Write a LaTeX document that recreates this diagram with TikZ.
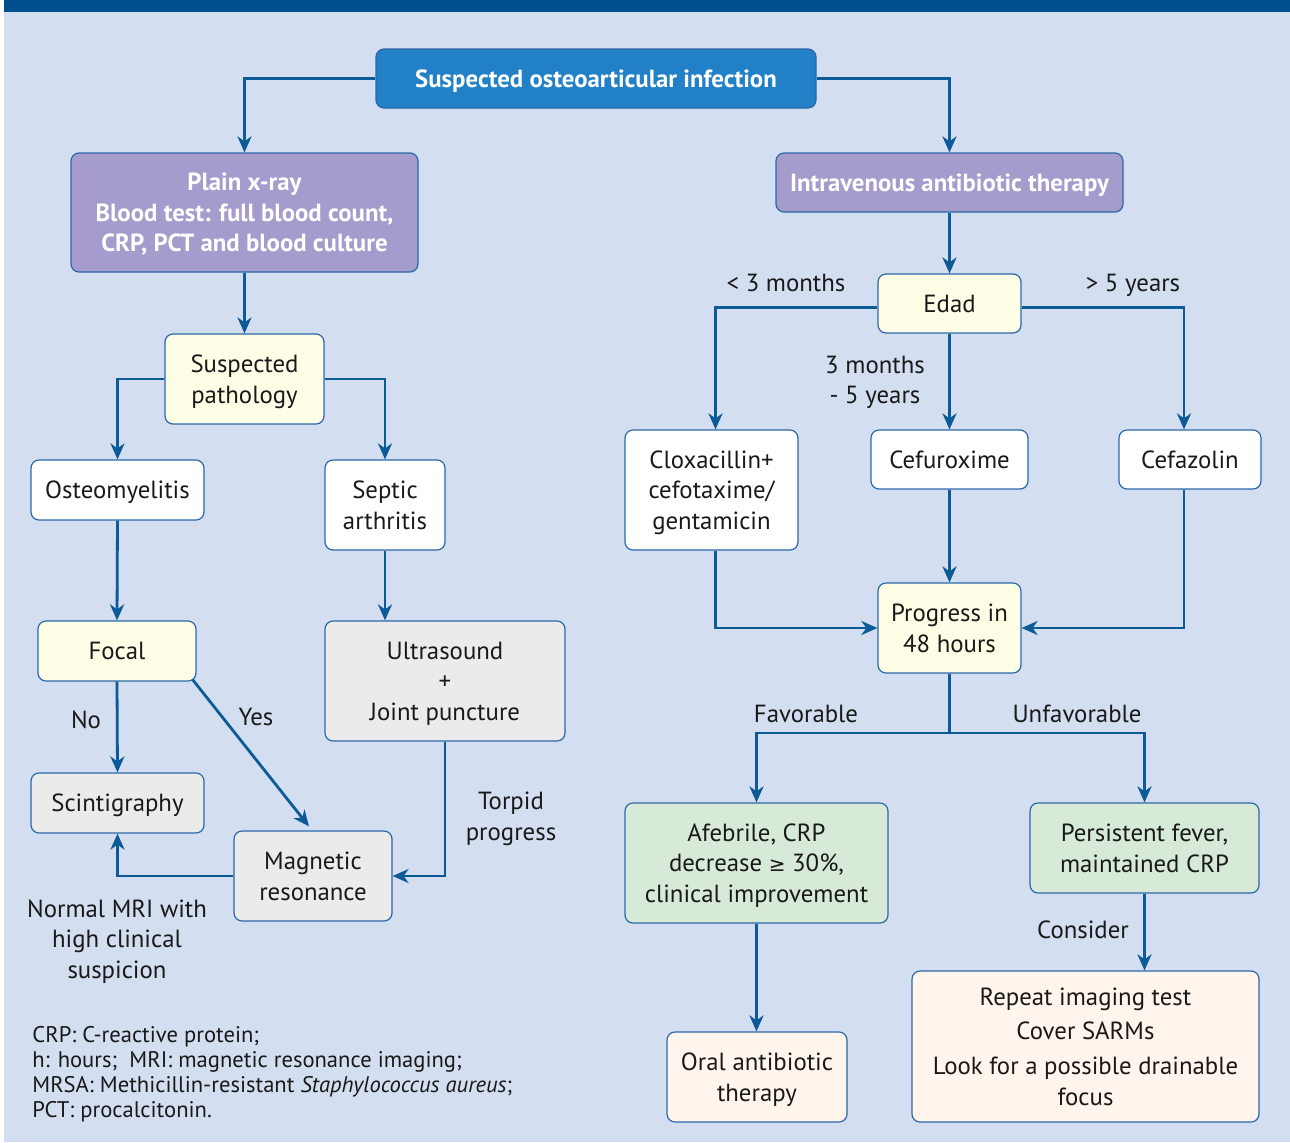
\documentclass[tikz,border=0pt]{standalone}
\usepackage{fontspec}
\setmainfont{PT Sans}
\newfontfamily\djv{DejaVu Sans}
\usetikzlibrary{arrows.meta}
\definecolor{bg}{HTML}{D3DEF1}
\definecolor{topbar}{HTML}{00508F}
\definecolor{hdr}{HTML}{2180C6}
\definecolor{purp}{HTML}{A59BCC}
\definecolor{yel}{HTML}{FEFDE6}
\definecolor{gry}{HTML}{EBEBEB}
\definecolor{grn}{HTML}{D6EAD7}
\definecolor{pch}{HTML}{FFF5EC}
\definecolor{bord}{HTML}{2A68A8}
\definecolor{arr}{HTML}{0C5A96}
\newcommand\fs{\fontsize{12.4}{15.3}\selectfont}
\newcommand\fsb{\fontsize{12.4}{15.3}\selectfont\bfseries}
\newcommand\fsl{\fontsize{11.3}{12.5}\selectfont}
\begin{document}
\begin{tikzpicture}[x=0.5pt,y=-0.5pt,
 box/.style={draw=bord, line width=0.6pt, rounded corners=4pt, align=center, font=\fs, inner sep=0pt, text=black!90, text depth=0pt},
 hbox/.style={box, font=\fsb, text=white},
 sz/.style 2 args={minimum width=#1*0.5pt, minimum height=#2*0.5pt},
 conn/.style={draw=arr, line width=1.4pt, -{Stealth[length=8pt,width=7pt,inset=2.5pt]}},
 lbl/.style={font=\fs, align=center, text=black!90, text depth=0pt}]
\useasboundingbox (0,0) rectangle (1290,1142);
\fill[white] (0,0) rectangle (1290,1142);
\fill[bg] (4,12) rectangle (1290,1142);
\fill[topbar] (4,0) rectangle (1290,12);

% nodes
\node[hbox, fill=hdr, sz={440}{59}] (top) at (596,78.5) {Suspected osteoarticular infection};
\node[hbox, fill=purp, sz={347}{119}] (plain) at (244.5,212.5) {Plain x-ray\\Blood test: full blood count,\\CRP, PCT and blood culture};
\node[hbox, fill=purp, sz={347}{59}] (iv) at (949.5,182.5) {Intravenous antibiotic therapy};
\node[box, fill=yel, sz={159}{90}] (susp) at (244.5,379) {Suspected\\pathology};
\node[box, fill=white, sz={173}{60}] (osteo) at (117.5,490) {Osteomyelitis};
\node[box, fill=white, sz={120}{90}] (septic) at (385,505) {Septic\\arthritis};
\node[box, fill=yel, sz={158}{60}] (focal) at (117,651) {Focal};
\node[box, fill=gry, sz={240}{120}] (us) at (445,681) {Ultrasound\\+\\Joint puncture};
\node[box, fill=gry, sz={173}{60}] (scint) at (117.5,803) {Scintigraphy};
\node[box, fill=gry, sz={158}{90}] (mr) at (313,876) {Magnetic\\resonance};
\node[box, fill=yel, sz={143}{59}] (edad) at (949.5,303.5) {Edad};
\node[box, fill=white, sz={173}{120}] (clox) at (711.5,490) {Cloxacillin+\\cefotaxime/\\gentamicin};
\node[box, fill=white, sz={157}{59}] (cefu) at (949.5,459.5) {Cefuroxime};
\node[box, fill=white, sz={142}{59}] (cefa) at (1190,459.5) {Cefazolin};
\node[box, fill=yel, sz={143}{90}] (prog) at (949.5,628) {Progress in\\48 hours};
\node[box, fill=grn, sz={263}{120}] (afeb) at (756.5,863) {Afebrile, CRP\\decrease {\djv\fontsize{10}{15}\selectfont ≥} 30\%,\\clinical improvement};
\node[box, fill=grn, sz={229}{90}] (pers) at (1144.5,848) {Persistent fever,\\maintained CRP};
\node[box, fill=pch, sz={180}{90}] (oral) at (757,1077) {Oral antibiotic\\therapy};
\node[box, fill=pch, sz={347}{151}, align=center] (rep) at (1085.5,1046.5) {Repeat imaging test\\[2pt]Cover SARMs\\[2pt]Look for a possible drainable\\focus};

% labels
\node[lbl] (lno) at (86,720) {No};
\node[lbl] (lyes) at (256,717) {Yes};
\node[lbl] (ltorp) at (511,816) {Torpid\\progress};
\node[lbl] (lnorm) at (117,939) {Normal MRI with\\high clinical\\suspicion};
\node[lbl] (l3m) at (786,283) {< 3 months};
\node[lbl] (l5y) at (1133,283) {> 5 years};
\node[lbl] (lmid) at (875,380) {3 months\\- 5 years};
\node[lbl] (lfav) at (806,714) {Favorable};
\node[lbl] (lunf) at (1077,714) {Unfavorable};
\node[lbl] (lcons) at (1083,930) {Consider};
\node[font=\fsl, align=left, anchor=north west, inner sep=0pt, text=black!90] (legend) at (32,1026) {CRP: C-reactive protein;\\h: hours;\ \ MRI: magnetic resonance imaging;\\MRSA: Methicillin-resistant \textit{Staphylococcus aureus};\\PCT: procalcitonin.};

% connectors
\draw[conn] (top.west) -| (plain.north);
\draw[conn] (top.east) -| (iv.north);
\draw[conn] (plain.south) -- (susp.north);
\draw[conn] (susp.west) -| (osteo.north);
\draw[conn] (susp.east) -| (septic.north);
\draw[conn] (osteo.south) -- (focal.north);
\draw[conn] (septic.south) -- (septic.south |- us.north);
\draw[conn] (focal.south) -- (scint.north);
\draw[conn] ([xshift=-2pt,yshift=1pt]focal.south east) -- ([xshift=-2pt,yshift=2pt]mr.north);
\draw[conn] (us.south) |- (mr.east);
\draw[conn] (mr.west) -| (scint.south);
\draw[conn] (iv.south) -- (edad.north);
\draw[conn] ([yshift=-2pt]edad.west) -| ([xshift=2pt]clox.north);
\draw[conn] (edad.south) -- (cefu.north);
\draw[conn] ([yshift=-2pt]edad.east) -| ([xshift=-3pt]cefa.north);
\draw[conn] ([xshift=2pt]clox.south) |- (prog.west);
\draw[conn] (cefu.south) -- (prog.north);
\draw[conn] ([xshift=-3pt]cefa.south) |- (prog.east);
\coordinate (split) at (949.5,733);
\draw[draw=arr, line width=1.4pt] (prog.south) -- (split);
\draw[conn] (split) -| (afeb.north);
\draw[conn] (split) -| (pers.north);
\draw[conn] (afeb.south) -- (afeb.south |- oral.north);
\draw[conn] (pers.south) -- (pers.south |- rep.north);
\end{tikzpicture}
\end{document}
